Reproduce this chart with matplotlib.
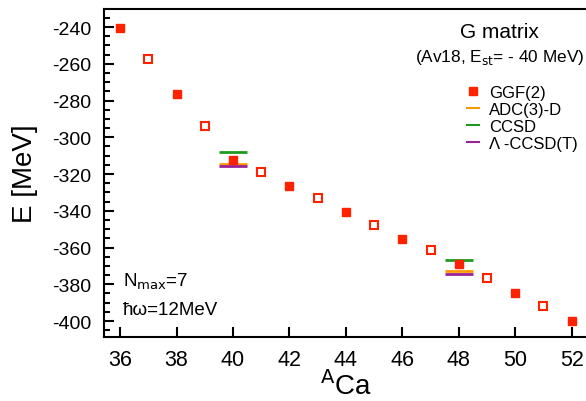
import numpy as np
import matplotlib.pyplot as plt
from matplotlib.lines import Line2D
from matplotlib.ticker import MultipleLocator

plt.rcParams['font.family'] = ['Liberation Sans', 'DejaVu Sans']
plt.rcParams['axes.unicode_minus'] = False

# GGF(2) energies, even (filled) and odd (open) Ca isotopes
a_even = [36, 38, 40, 42, 44, 46, 48, 50, 52]
e_even = [-240.3, -276.2, -312.4, -326.3, -340.7, -355.4, -369.1, -384.8, -400.2]
a_odd = [37, 39, 41, 43, 45, 47, 49, 51]
e_odd = [-257.4, -294.0, -318.7, -333.0, -347.8, -361.5, -376.6, -392.0]

# other methods for closed shells
a_cc = [40, 48]
e_adc = [-314.7, -372.6]
e_ccsd = [-307.9, -367.0]
e_lccsdt = [-315.5, -374.3]

red = '#ff2200'
orange = '#ff9900'
green = '#1f9a1f'
purple = '#992299'

fig = plt.figure(figsize=(5.86, 4.02), dpi=100)
ax = fig.add_axes([104/586, 1 - 338/402, 1 - 104/586 + 0.002, (338 - 10)/402])

ax.hlines(e_adc, np.array(a_cc) - 0.5, np.array(a_cc) + 0.5, color=orange, lw=2, zorder=2)
ax.hlines(e_lccsdt, np.array(a_cc) - 0.5, np.array(a_cc) + 0.5, color=purple, lw=2, zorder=2)
ax.hlines(e_ccsd, np.array(a_cc) - 0.5, np.array(a_cc) + 0.5, color=green, lw=2, zorder=2)
ax.plot(a_even, e_even, 's', color=red, ms=6, zorder=3)
ax.plot(a_odd, e_odd, 's', mfc='white', mec=red, mew=1.5, ms=5.5, zorder=3)

ax.set_xlim(35.43, 52.55)
ax.set_ylim(-408.7, -230.2)
ax.xaxis.set_major_locator(MultipleLocator(2))
ax.yaxis.set_major_locator(MultipleLocator(20))
ax.yaxis.set_minor_locator(MultipleLocator(5))
ax.tick_params(which='both', direction='in', labelsize=14, width=1.5)
ax.tick_params(which='major', length=7)
ax.tick_params(which='minor', length=4)
ax.tick_params(axis='x', pad=9, labelsize=15.5)
ax.tick_params(axis='y', pad=9)
for s in ax.spines.values():
    s.set_linewidth(1.5)
ax.spines['right'].set_visible(False)

ax.set_xlabel('$^{\\mathsf{A}}$Ca', fontsize=20, labelpad=0)
ax.set_ylabel('E [MeV]', fontsize=20, labelpad=10)

ax.text(0.818, 0.93, 'G matrix', transform=ax.transAxes, ha='center', va='center', fontsize=15)
ax.text(0.818, 0.855, '(Av18, E$_{\\mathsf{st}}$= - 40 MeV)', transform=ax.transAxes,
        ha='center', va='center', fontsize=12.4)
ax.text(0.04, 0.17, 'N$_{\\mathsf{max}}$=7', transform=ax.transAxes, ha='left', va='center', fontsize=13.5)
ax.text(0.04, 0.085, 'ħω=12MeV', transform=ax.transAxes, ha='left', va='center', fontsize=13.5)

handles = [
    Line2D([], [], ls='none', marker='s', color=red, ms=6),
    Line2D([], [], color=orange, lw=1.5),
    Line2D([], [], color=green, lw=1.5),
    Line2D([], [], color=purple, lw=1.5),
]
labels = ['GGF(2)', 'ADC(3)-D', 'CCSD', 'Λ -CCSD(T)']
ax.legend(handles, labels, loc='upper left', bbox_to_anchor=(0.735, 0.795), frameon=False,
          fontsize=12, handlelength=0.7, handletextpad=0.6, labelspacing=0.12, borderpad=0)

fig.savefig('out.png', dpi=100)
